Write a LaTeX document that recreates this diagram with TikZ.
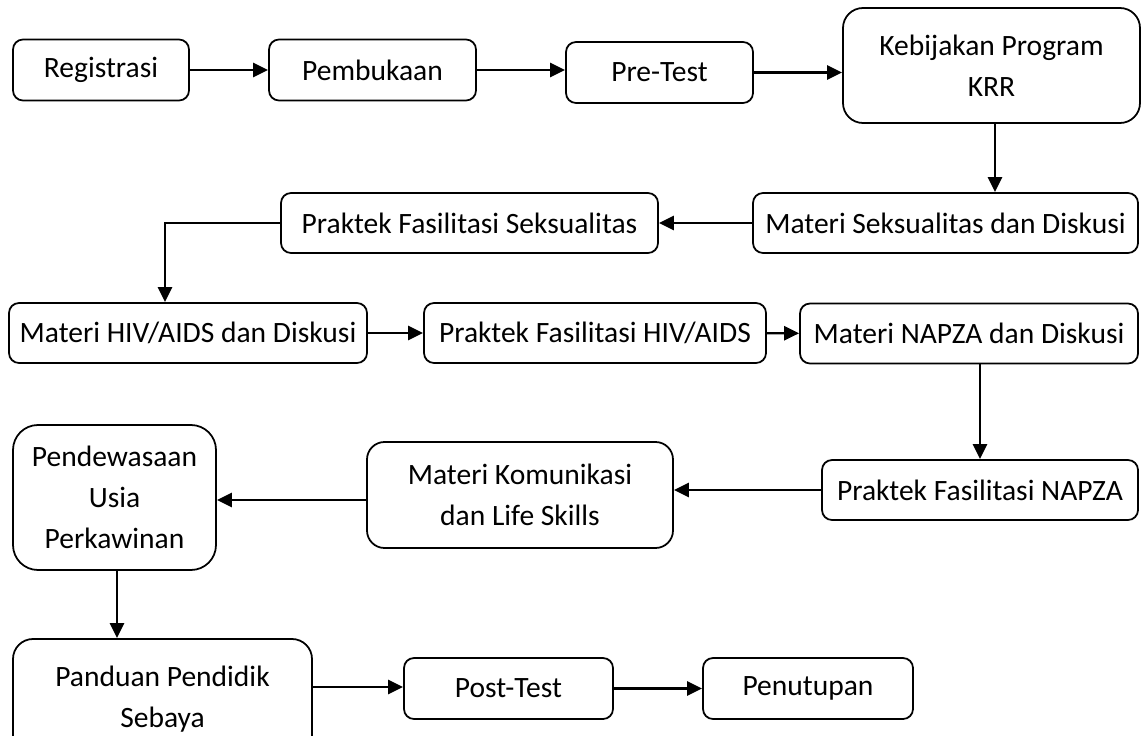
\documentclass[tikz,border=0pt]{standalone}
\usepackage{fontspec}
\setmainfont{Carlito}
\usetikzlibrary{arrows.meta,positioning,calc}

\begin{document}
\begin{tikzpicture}
  [
  font=\fontsize{16.8}{23.5}\selectfont, draw=black, >={Triangle[length=3mm,width=2.8mm]}, line width=1.4pt,
  box/.style={rectangle, minimum height=12.2mm, draw=black, line width=1pt, rounded corners=2mm, inner sep=0pt},
  bigbox/.style={rectangle, draw=black, line width=1pt, rounded corners=4mm, align=center, inner sep=0pt}
  ]
\clip (0,0) rectangle (22.82,-14.72);

\node[box, minimum width=35.2mm] (reg) at (2.02,-1.40) {Registrasi};
\node[box, minimum width=41.4mm] (pem) at (7.45,-1.40) {Pembukaan};
\node[box, minimum width=37.4mm] (pre) at (13.19,-1.45) {Pre-Test};
\node[bigbox, minimum width=59.4mm, minimum height=23mm] (keb) at (19.83,-1.31) {Kebijakan Program\\KRR};

\node[box, minimum width=77mm, minimum height=12mm] (matseks) at (18.91,-4.46) {Materi Seksualitas dan Diskusi};
\node[box, minimum width=75.4mm, minimum height=12mm] (prakseks) at (9.39,-4.46) {Praktek Fasilitasi Seksualitas};

\node[box, minimum width=71.6mm, minimum height=12mm] (mathiv) at (3.76,-6.66) {Materi HIV/AIDS dan Diskusi};
\node[box, minimum width=68.4mm, minimum height=12mm] (prakhiv) at (11.90,-6.66) {Praktek Fasilitasi HIV/AIDS};
\node[box, minimum width=67.6mm, minimum height=12mm] (matnapza) at (19.38,-6.67) {Materi NAPZA dan Diskusi};

\node[box, minimum width=63.2mm, minimum height=12mm] (praknapza) at (19.60,-9.80) {Praktek Fasilitasi NAPZA};
\node[bigbox, rounded corners=3.5mm, minimum width=61.2mm, minimum height=21.2mm] (kom) at (10.40,-9.90) {Materi Komunikasi\\dan Life Skills};
\node[bigbox, rounded corners=5mm, minimum width=40.6mm, minimum height=29mm] (pup) at (2.29,-9.95) {Pendewasaan\\Usia\\Perkawinan};

\node[bigbox, rounded corners=4mm, minimum width=59.8mm, minimum height=24mm] (panduan) at (3.25,-13.98) {Panduan Pendidik\\Sebaya};
\node[box, minimum width=41.8mm] (post) at (10.17,-13.77) {Post-Test};
\node[box, minimum width=42mm] (tutup) at (16.16,-13.77) {Penutupan};

\draw[->] (reg) -- (pem);
\draw[->] (pem.east) -- (pem.east -| pre.west);
\draw[->] (pre.east) -- (pre.east -| keb.west);
\draw[->] ([xshift=0.07cm]keb.south) -- ([xshift=0.07cm]keb.south |- matseks.north);
\draw[->] (matseks.west) -- (prakseks.east);
\draw[->] (prakseks.west) -| ([xshift=-0.46cm]mathiv.north);
\draw[->] (mathiv) -- (prakhiv);
\draw[->] (prakhiv) -- (matnapza);
\draw[->] (praknapza.north |- matnapza.south) -- (praknapza.north);
\draw[->] (praknapza.west) -- (praknapza.west -| kom.east);
\draw[->] ([yshift=-0.1cm]kom.west) -- ([yshift=-0.1cm]kom.west -| pup.east);
\draw[->] ([xshift=0.05cm]pup.south) -- ([xshift=0.05cm]pup.south |- panduan.north);
\draw[->] ([yshift=0.24cm]panduan.east) -- ([yshift=0.24cm]panduan.east -| post.west);
\draw[->] (post) -- (tutup);

\end{tikzpicture}
\end{document}
